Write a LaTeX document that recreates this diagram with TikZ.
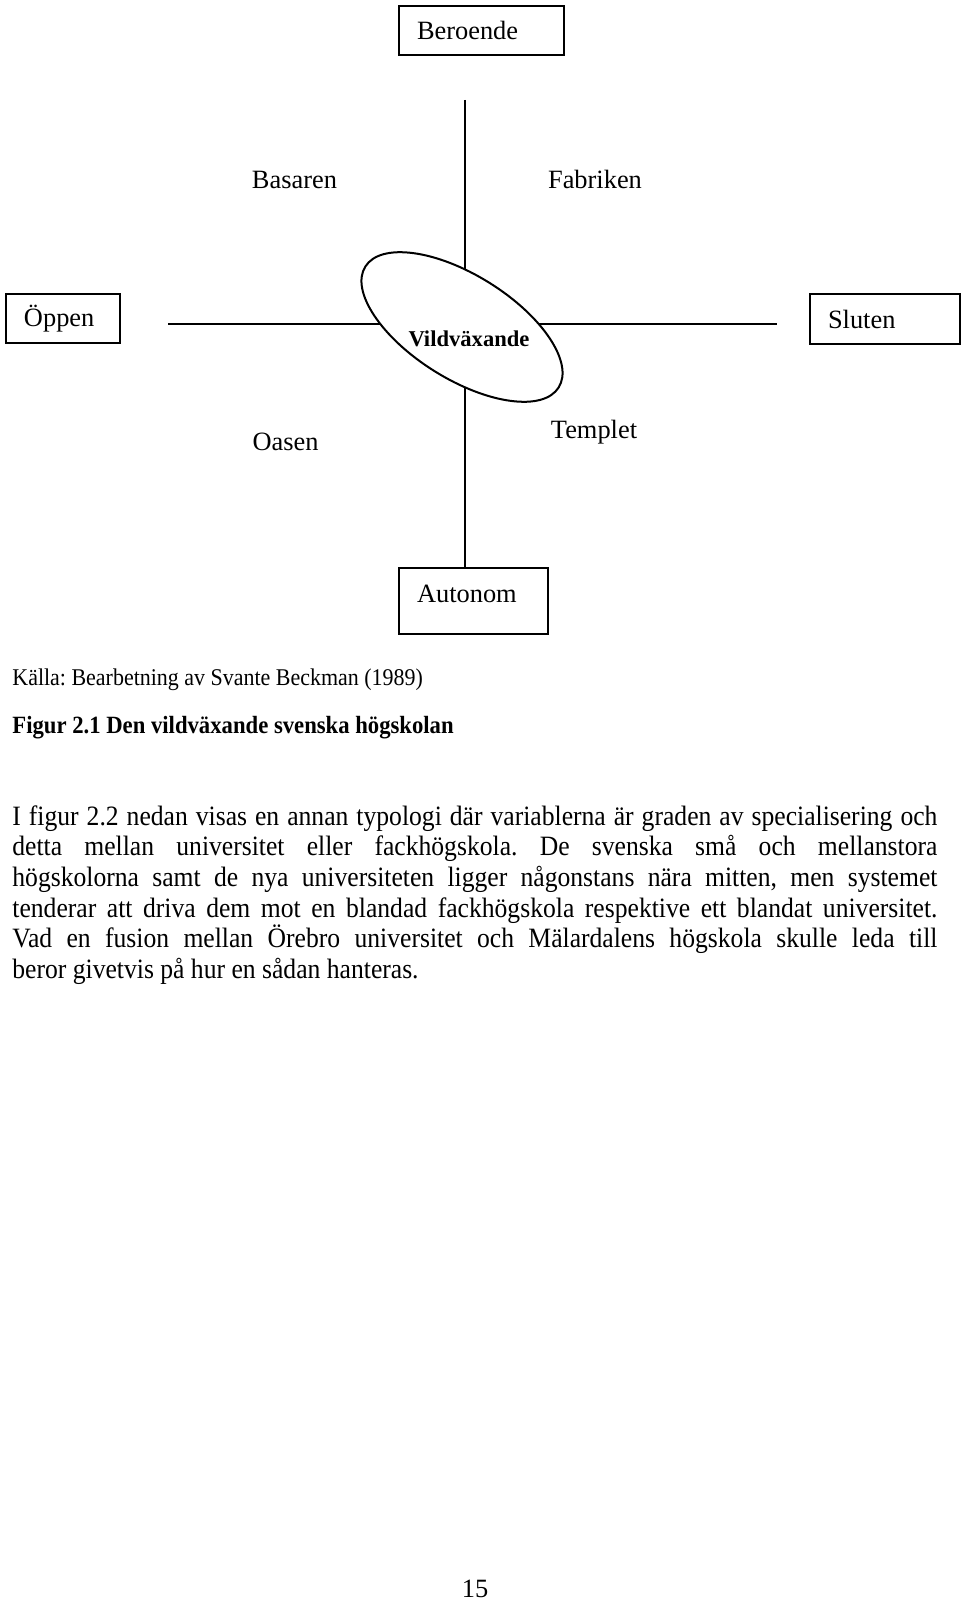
\documentclass[tikz,border=0pt]{standalone}
\usepackage{fontspec}
\setmainfont{Liberation Serif}
\newfontfamily\garafont[FakeStretch=0.915]{Liberation Serif}
\usetikzlibrary{shapes.geometric}
\frenchspacing

\tikzset{
  axisline/.style={line width=0.75pt},
  typebox/.style={draw, rectangle, line width=1pt, anchor=north west, align=left,
    inner xsep=9pt, inner ysep=0pt, font=\fontsize{13.2}{15}\selectfont},
  quadlabel/.style={anchor=base, inner sep=0pt, font=\fontsize{13.2}{15}\selectfont},
  captext/.style={anchor=base west, inner sep=0pt, font=\garafont\fontsize{12}{14}\selectfont}
}

\begin{document}
\begin{tikzpicture}[x=0.5pt, y=-0.5pt]
\useasboundingbox (0,0) rectangle (960,1600);

% the four poles
\node[typebox, text width=64.5pt, minimum height=24.5pt] (ber) at (398,5) {Beroende};
\node[typebox, text width=39pt, minimum height=24.5pt] (opp) at (5,293) {Öppen};
\node[typebox, text width=57pt, minimum height=25pt] (slu) at (809,293) {Sluten};
\node[typebox, text width=56.5pt, minimum height=33pt, text depth=7pt] (aut) at (398,567) {Autonom};

% axes
\coordinate (top) at (465,100);
\coordinate (lft) at (168,324);
\coordinate (rgt) at (777,324);
\draw[axisline] (top) -- (top |- aut.north);
\draw[axisline] (lft) -- (rgt);

\node[ellipse, draw, fill=white, line width=1pt, rotate=-32, inner sep=0pt,
  minimum width=114pt, minimum height=52pt] (wild) at (462,327) {};
\node[inner sep=0pt, font=\bfseries\fontsize{11.3}{13}\selectfont] (wildtxt) at (469,339) {Vildväxande};

% quadrants
\node[quadlabel] (bas) at (294.5,188) {Basaren};
\node[quadlabel] (fab) at (595,188) {Fabriken};
\node[quadlabel] (oas) at (285.5,450) {Oasen};
\node[quadlabel] (tem) at (594,438) {Templet};

% caption and text
\node[captext] (src) at (12,685) {Källa: Bearbetning av Svante Beckman (1989)};
\node[captext, font=\garafont\bfseries\fontsize{12.4}{14}\selectfont] (fig) at (12,733) {Figur 2.1 Den vildväxande svenska högskolan};

\node[anchor=base west, inner sep=0pt, text width=462.5pt, align=justify,
  font=\garafont\fontsize{14}{15.35}\selectfont] (body) at (12,825)
  {\hyphenpenalty=10000\exhyphenpenalty=10000\tolerance=10000
  I figur 2.2 nedan visas en annan typologi där variablerna är graden av specialisering och\linebreak
  detta mellan universitet eller fackhögskola. De svenska små och mellanstora\linebreak
  högskolorna samt de nya universiteten ligger någonstans nära mitten, men systemet\linebreak
  tenderar att driva dem mot en blandad fackhögskola respektive ett blandat universitet.\linebreak
  Vad en fusion mellan Örebro universitet och Mälardalens högskola skulle leda till\linebreak
  beror givetvis på hur en sådan hanteras.};

\node[quadlabel] (pnum) at (475,1597) {15};
\end{tikzpicture}
\end{document}
